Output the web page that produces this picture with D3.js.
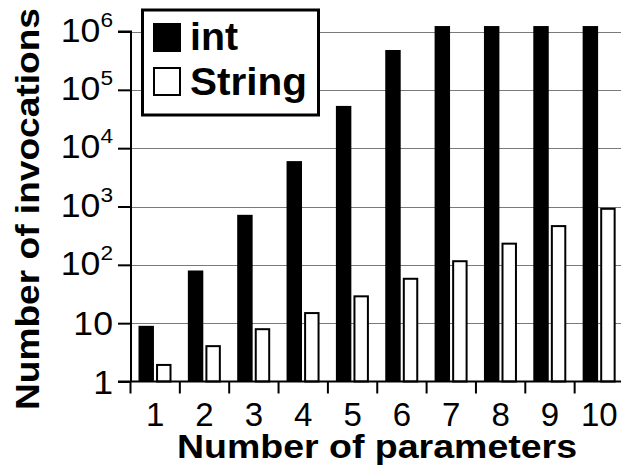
<!DOCTYPE html>
<html lang="en">
<head>
    <meta charset="UTF-8">
    <title>Number of invocations</title>
    <script src="https://d3js.org/d3.v7.min.js"></script>
    <style>
        body {
            margin: 0;
            background: #fff;
        }
        svg text {
            font-family: "Liberation Sans", Arial, sans-serif;
            fill: #000;
        }
        .grid {
            stroke: #7a7a7a;
            stroke-width: 1px;
        }
    </style>
</head>
<body>

    <svg width="621" height="469"></svg>

    <script>
        // Data
        const params = [1, 2, 3, 4, 5, 6, 7, 8, 9, 10];
        const intCounts = [9, 80, 720, 6000, 53000, 482000, 1240000, 1240000, 1240000, 1240000];
        const stringCounts = [2, 4.2, 8.2, 15.5, 30, 60, 120, 240, 480, 950];
        const seriesNames = ["int", "String"];
        const yTicks = [1, 10, 100, 1000, 10000, 100000, 1000000];

        const width = 621, height = 469;
        const svg = d3.select("svg");

        const x = d3.scaleBand().domain(params).range([130.5, 624]);
        const xs = d3.scaleBand().domain(seriesNames).range([8, 41]).paddingInner(0.12);
        const y = d3.scaleLog().domain([1, 1e6]).range([381.5, 31.5]);

        // gridlines
        svg.append("g")
            .selectAll("line")
            .data(yTicks.slice(1))
            .join("line")
            .attr("class", "grid")
            .attr("x1", 131).attr("x2", width)
            .attr("y1", d => Math.round(y(d)) + 0.5)
            .attr("y2", d => Math.round(y(d)) + 0.5);

        // bars
        const rows = params.map((p, i) => ({ p, int: intCounts[i], String: stringCounts[i] }));
        const groups = svg.append("g")
            .selectAll("g")
            .data(rows)
            .join("g")
            .attr("transform", d => `translate(${x(d.p)},0)`);

        groups.append("rect")
            .attr("x", xs("int"))
            .attr("width", xs.bandwidth())
            .attr("y", d => y(d.int))
            .attr("height", d => y(1) - y(d.int))
            .attr("fill", "#000");

        groups.append("rect")
            .attr("x", xs("String") + 1)
            .attr("width", xs.bandwidth() - 2)
            .attr("y", d => y(d.String) + 1)
            .attr("height", d => y(1) - y(d.String) - 1)
            .attr("fill", "#fff")
            .attr("stroke", "#000")
            .attr("stroke-width", 2);

        // y axis
        const yAxis = svg.append("g").attr("transform", "translate(131,0)")
            .call(d3.axisLeft(y).tickValues(yTicks).tickSize(13).tickFormat(""));
        yAxis.selectAll("line, path").attr("stroke", "#000").attr("stroke-width", 2);
        yAxis.select(".domain").attr("d", `M-13,${y(1e6)}H0V${y(1)}`);

        const sup = "⁰¹²³⁴⁵⁶⁷⁸⁹";
        const yLabels = svg.append("g")
            .selectAll("g")
            .data(yTicks)
            .join("g")
            .attr("transform", d => `translate(113,${y(d) + (d >= 100 ? 10 : 12)}) scale(1.08,1)`);
        yLabels.append("text")
            .attr("text-anchor", "end")
            .style("font-size", "33px")
            .each(function(d) {
                const t = d3.select(this);
                const e = Math.round(Math.log10(d));
                if (e < 2) {
                    t.text(d);
                } else {
                    t.append("tspan").text("10");
                    t.append("tspan")
                        .attr("dy", -15)
                        .style("font-size", "21px")
                        .text(String(e));
                }
            });

        // x axis
        const xAxis = svg.append("g").attr("transform", `translate(0,${y(1)})`);
        xAxis.append("line")
            .attr("x1", 118).attr("x2", width)
            .attr("stroke", "#000").attr("stroke-width", 2);
        xAxis.selectAll(".tk")
            .data(params)
            .join("line")
            .attr("class", "tk")
            .attr("x1", d => x(d)).attr("x2", d => x(d))
            .attr("y1", 0).attr("y2", 12)
            .attr("stroke", "#000").attr("stroke-width", 2);

        svg.append("g")
            .selectAll("text")
            .data(params)
            .join("text")
            .attr("x", d => x(d) + x.bandwidth() / 2)
            .attr("y", 426)
            .attr("text-anchor", "middle")
            .style("font-size", "33px")
            .text(d => d);

        // axis titles
        svg.append("text")
            .attr("x", 377).attr("y", 458)
            .attr("text-anchor", "middle")
            .attr("textLength", 400).attr("lengthAdjust", "spacingAndGlyphs")
            .style("font-size", "34px").style("font-weight", "bold")
            .text("Number of parameters");

        svg.append("text")
            .attr("transform", "translate(39,209) rotate(-90)")
            .attr("text-anchor", "middle")
            .attr("textLength", 402).attr("lengthAdjust", "spacingAndGlyphs")
            .style("font-size", "34px").style("font-weight", "bold")
            .text("Number of invocations");

        // legend
        const legend = svg.append("g");
        legend.append("rect")
            .attr("x", 142.5).attr("y", 10)
            .attr("width", 176).attr("height", 105)
            .attr("fill", "#fff").attr("stroke", "#000").attr("stroke-width", 3);

        const items = legend.selectAll(".item")
            .data(seriesNames)
            .join("g")
            .attr("class", "item")
            .attr("transform", (d, i) => `translate(0,${i * 44.5})`);
        items.append("rect")
            .attr("x", d => d === "int" ? 153 : 154)
            .attr("y", d => d === "int" ? 23 : 23.5)
            .attr("width", d => d === "int" ? 28 : 26)
            .attr("height", d => d === "int" ? 29 : 27)
            .attr("fill", d => d === "int" ? "#000" : "#fff")
            .attr("stroke", d => d === "int" ? "none" : "#000")
            .attr("stroke-width", 2);
        items.append("text")
            .attr("x", 190).attr("y", 50)
            .attr("textLength", d => d === "int" ? 48 : 117)
            .attr("lengthAdjust", "spacingAndGlyphs")
            .style("font-size", "39px").style("font-weight", "bold")
            .text(d => d);
    </script>

</body>
</html>
